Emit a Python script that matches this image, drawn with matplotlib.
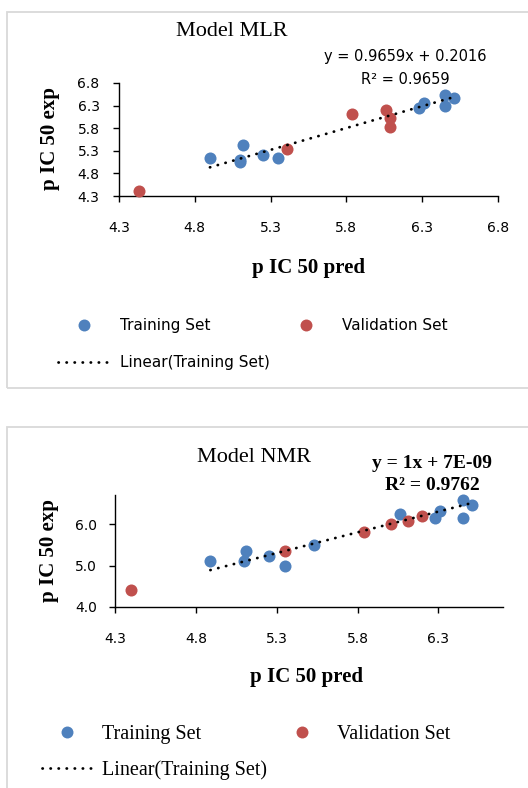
import numpy as np
import matplotlib
matplotlib.use("Agg")
import matplotlib.pyplot as plt
from matplotlib.patches import Rectangle
from matplotlib.lines import Line2D

# ---- data ----
mlr_train_pred = [4.90, 5.10, 5.10, 5.12, 5.25, 5.35, 6.28, 6.31, 6.45, 6.45, 6.51]
mlr_train_exp = [5.14, 5.06, 5.09, 5.43, 5.21, 5.14, 6.25, 6.35, 6.54, 6.30, 6.47]
mlr_val_pred = [4.43, 5.41, 5.84, 6.06, 6.09, 6.09]
mlr_val_exp = [4.41, 5.35, 6.12, 6.20, 6.03, 5.82]
mlr_slope, mlr_icpt = 0.9659, 0.2016

nmr_train_pred = [4.89, 5.10, 5.11, 5.25, 5.35, 5.53, 6.06, 6.28, 6.31, 6.45, 6.45, 6.51]
nmr_train_exp = [5.10, 5.11, 5.34, 5.23, 4.99, 5.50, 6.24, 6.15, 6.31, 6.57, 6.15, 6.45]
nmr_val_pred = [4.40, 5.35, 5.84, 6.01, 6.11, 6.20]
nmr_val_exp = [4.40, 5.36, 5.82, 6.00, 6.08, 6.20]
nmr_slope, nmr_icpt = 1.0, 7e-09

blue = '#4F81BD'
red = '#C0504D'
sans = 'DejaVu Sans'
serif = 'Liberation Serif'

W, H = 528, 788
fig = plt.figure(figsize=(W / 100, H / 100), dpi=100)


def box(l, t, r, b):
    return [l / W, 1 - b / H, (r - l) / W, (b - t) / H]


def fx(x):
    return x / W


def fy(y):
    return 1 - y / H


# chart frames
fig.patches.append(Rectangle((fx(7), fy(388)), fx(540) - fx(7), fy(12) - fy(388),
                             transform=fig.transFigure, fill=False, ec='#D9D9D9', lw=1.3))
fig.patches.append(Rectangle((fx(7), fy(800)), fx(540) - fx(7), fy(427) - fy(800),
                             transform=fig.transFigure, fill=False, ec='#D9D9D9', lw=1.3))


def draw(ax, tp, te, vp, ve, slope, icpt, tick_pad_y):
    ax.scatter(tp, te, s=75, color=blue, zorder=3, clip_on=False, linewidths=0)
    ax.scatter(vp, ve, s=75, color=red, zorder=3, clip_on=False, linewidths=0)
    xs = np.array([min(tp), max(tp)])
    ax.plot(xs, slope * xs + icpt, color='black', lw=2.0, dashes=(0.1, 2.8),
            dash_capstyle='round', zorder=4)
    for s in ['top', 'right']:
        ax.spines[s].set_visible(False)
    for s in ['left', 'bottom']:
        ax.spines[s].set_linewidth(1.0)
    ax.tick_params(direction='out', length=4, width=1.0, labelsize=10)
    ax.tick_params(axis='x', pad=14)
    ax.tick_params(axis='y', pad=tick_pad_y)
    for lab in ax.get_xticklabels() + ax.get_yticklabels():
        lab.set_family(sans)
    ax.set_facecolor('none')


# ---- top: Model MLR ----
ax1 = fig.add_axes(box(119, 83, 498, 196))
ax1.set_xlim(4.3, 6.8)
ax1.set_ylim(4.3, 6.8)
ax1.set_xticks([4.3, 4.8, 5.3, 5.8, 6.3, 6.8])
ax1.set_yticks([4.3, 4.8, 5.3, 5.8, 6.3, 6.8])
ax1.xaxis.set_major_formatter('{x:.1f}')
ax1.yaxis.set_major_formatter('{x:.1f}')
draw(ax1, mlr_train_pred, mlr_train_exp, mlr_val_pred, mlr_val_exp, mlr_slope, mlr_icpt, 10)

fig.text(fx(232), fy(32), 'Model MLR', family=serif, fontsize=16, ha='center', va='center')
fig.text(fx(405), fy(57), 'y = 0.9659x + 0.2016', family=sans, fontsize=10.5, ha='center', va='center')
fig.text(fx(405), fy(80), 'R² = 0.9659', family=sans, fontsize=10.5, ha='center', va='center')
fig.text(fx(308), fy(268), 'p IC 50 pred', family=serif, weight='bold', fontsize=15, ha='center', va='center')
fig.text(fx(50), fy(139), 'p IC 50 exp', family=serif, weight='bold', fontsize=15, ha='center',
         va='center', rotation=90)

h_train = Line2D([], [], ls='none', marker='o', ms=8.6, color=blue, mew=0)
h_val = Line2D([], [], ls='none', marker='o', ms=8.6, color=red, mew=0)
h_lin = Line2D([], [], color='black', lw=2.0, dashes=(0.1, 2.8), dash_capstyle='round')

fig.legend([h_train, h_lin, h_val], ['Training Set', 'Linear(Training Set)', 'Validation Set'],
           ncol=2, loc='upper left', bbox_to_anchor=(fx(58), fy(318)), frameon=False,
           prop={'family': sans, 'size': 11}, handlelength=3.4, handletextpad=0.65,
           columnspacing=0.65, labelspacing=1.45, borderpad=0, borderaxespad=0)

# ---- bottom: Model NMR ----
ax2 = fig.add_axes(box(115, 495, 503, 607))
ax2.set_xlim(4.3, 6.7)
ax2.set_ylim(4.0, 6.7)
ax2.set_xticks([4.3, 4.8, 5.3, 5.8, 6.3])
ax2.set_yticks([4.0, 5.0, 6.0])
ax2.xaxis.set_major_formatter('{x:.1f}')
ax2.yaxis.set_major_formatter('{x:.1f}')
draw(ax2, nmr_train_pred, nmr_train_exp, nmr_val_pred, nmr_val_exp, nmr_slope, nmr_icpt, 9)

fig.text(fx(254), fy(457), 'Model NMR', family=serif, fontsize=16, ha='center', va='center')
fig.text(fx(432), fy(464), 'y = 1x + 7E-09', family=serif, weight='bold', fontsize=14,
         ha='center', va='center')
fig.text(fx(432), fy(485), 'R² = 0.9762', family=serif, weight='bold', fontsize=14,
         ha='center', va='center')
fig.text(fx(306), fy(677), 'p IC 50 pred', family=serif, weight='bold', fontsize=15, ha='center', va='center')
fig.text(fx(49), fy(550), 'p IC 50 exp', family=serif, weight='bold', fontsize=15, ha='center',
         va='center', rotation=90)

fig.legend([h_train, h_lin, h_val], ['Training Set', 'Linear(Training Set)', 'Validation Set'],
           ncol=2, loc='upper left', bbox_to_anchor=(fx(42), fy(725)), frameon=False,
           prop={'family': serif, 'size': 14.5}, handlelength=2.5, handletextpad=0.5,
           columnspacing=0.45, labelspacing=0.8, borderpad=0, borderaxespad=0)

fig.savefig('out.png', dpi=100)
